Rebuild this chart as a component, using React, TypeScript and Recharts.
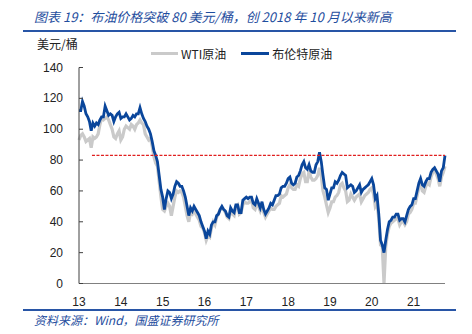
import { LineChart, Line, XAxis, YAxis } from 'recharts'

// 半月度数据，从 2013 年 1 月开始
const brent2013 = [112, 112, 118, 115, 110, 108, 105, 99, 104, 102, 104, 103, 106, 108, 108, 115, 112, 109, 110, 109, 105, 108, 110, 111]
const brent2014 = [107, 108, 108, 110, 108, 106, 107, 109, 108, 110, 110, 114, 110, 107, 105, 102, 100, 97, 92, 86, 83, 79, 70, 61]
const brent2015 = [56, 48, 55, 60, 59, 55, 58, 63, 66, 65, 63, 63, 60, 56, 50, 44, 49, 47, 50, 48, 46, 44, 40, 37]
const brent2016 = [34, 29, 34, 32, 38, 40, 40, 44, 45, 48, 50, 48, 47, 44, 43, 49, 47, 46, 51, 51, 46, 46, 54, 55]
const brent2017 = [56, 55, 56, 56, 52, 51, 55, 52, 49, 53, 48, 45, 47, 49, 52, 51, 54, 57, 57, 58, 62, 63, 63, 65]
const brent2018 = [68, 69, 65, 64, 65, 69, 70, 73, 77, 79, 75, 74, 77, 73, 72, 72, 77, 79, 85, 79, 70, 62, 61, 54]
const brent2019 = [58, 62, 62, 66, 65, 67, 70, 72, 71, 70, 62, 63, 64, 63, 59, 60, 62, 64, 59, 61, 62, 63, 64, 66]
const brent2020 = [68, 64, 55, 57, 45, 28, 25, 20, 28, 35, 40, 41, 43, 43, 45, 45, 41, 42, 42, 40, 44, 48, 50, 51]
const brent2021 = [55, 55, 60, 65, 68, 64, 63, 66, 68, 68, 72, 74, 75, 73, 71, 66, 73, 75, 83]

const wti2013 = [93, 96, 97, 95, 92, 93, 94, 88, 95, 94, 95, 97, 103, 107, 106, 107, 108, 106, 103, 100, 95, 94, 97, 99]
const wti2014 = [93, 95, 100, 102, 101, 100, 103, 102, 100, 103, 104, 106, 104, 103, 97, 95, 93, 94, 89, 82, 78, 76, 66, 56]
const wti2015 = [48, 47, 50, 52, 50, 44, 50, 56, 60, 59, 60, 59, 56, 50, 44, 40, 46, 45, 48, 45, 43, 41, 37, 36]
const wti2016 = [33, 28, 31, 30, 36, 40, 38, 43, 45, 48, 49, 48, 46, 43, 42, 47, 45, 44, 50, 51, 45, 46, 51, 53]
const wti2017 = [52, 52, 53, 54, 49, 48, 52, 50, 47, 50, 46, 43, 45, 47, 49, 48, 48, 50, 51, 52, 57, 56, 57, 58]
const wti2018 = [62, 64, 62, 61, 61, 64, 63, 68, 71, 72, 66, 66, 73, 69, 67, 67, 68, 70, 75, 70, 60, 56, 51, 46]
const wti2019 = [49, 53, 53, 56, 57, 59, 64, 65, 62, 60, 53, 54, 58, 56, 54, 56, 57, 58, 53, 55, 57, 58, 59, 61]
const wti2020 = [62, 58, 50, 52, 42, 25, 24, 0, 24, 32, 37, 39, 40, 41, 42, 42, 38, 40, 40, 38, 40, 45, 46, 48]
const wti2021 = [52, 52, 57, 62, 65, 60, 59, 63, 65, 64, 69, 72, 74, 71, 68, 63, 69, 72, 76]

const brent = [...brent2013, ...brent2014, ...brent2015, ...brent2016, ...brent2017, ...brent2018, ...brent2019, ...brent2020, ...brent2021]
const wti = [...wti2013, ...wti2014, ...wti2015, ...wti2016, ...wti2017, ...wti2018, ...wti2019, ...wti2020, ...wti2021]

const xTicks = [13, 14, 15, 16, 17, 18, 19, 20, 21]
const yTicks = [0, 20, 40, 60, 80, 100, 120, 140]
// 红色虚线：2018 年 10 月高点水平
const refX = [13.31, 21.75]
const refY = [83, 83]
const xEnd = 21.75

const data = brent.map((b, i) => ({ d: 13 + i / 24, brent: b, wti: wti[i] }))
const refData = refX.map((d, i) => ({ d, ref: refY[i] }))

const FONT = '"Liberation Sans", Arial, sans-serif'
const CJK = '"Noto Sans CJK SC", sans-serif'
const BLUE = '#0A469B'
const HEAD = '#1F4E9E'
const RED = '#E02020'

function YTick(props: any) {
  const { x, y, payload } = props
  return (
    <g>
      <line x1={x + 16} x2={x + 20} y1={y} y2={y} stroke="#404040" />
      <text x={x} y={y} dy={4} textAnchor="end" fontSize={12} fill="#222" fontFamily={FONT}>
        {payload.value}
      </text>
    </g>
  )
}

export default function App() {
  return (
    <div style={{ position: 'absolute', left: 0, top: 0, width: 472, height: 334, background: '#fff' }}>
      <LineChart
        width={472}
        height={334}
        data={data}
        margin={{ top: 67.5, right: 27, bottom: 20.5, left: 39 }}
        style={{ position: 'absolute', left: 0, top: 0 }}
      >
        <XAxis
          dataKey="d"
          type="number"
          domain={[13, xEnd]}
          ticks={xTicks}
          interval={0}
          tickLine={false}
          tickMargin={8}
          height={30}
          axisLine={{ stroke: '#808080' }}
          tick={{ fontSize: 12, fill: '#222', fontFamily: FONT }}
        />
        <YAxis
          domain={[0, 140]}
          ticks={yTicks}
          interval={0}
          width={40}
          tickLine={false}
          tickMargin={10}
          axisLine={{ stroke: '#404040' }}
          tick={<YTick />}
        />
        <Line type="linear" dataKey="wti" stroke="#CACACA" strokeWidth={3.2} dot={false} isAnimationActive={false} />
        <Line type="linear" dataKey="brent" stroke={BLUE} strokeWidth={2.8} dot={false} isAnimationActive={false} />
        <Line
          data={refData}
          type="linear"
          dataKey="ref"
          stroke={RED}
          strokeWidth={1.2}
          strokeDasharray="3 1.5"
          dot={false}
          isAnimationActive={false}
        />
      </LineChart>

      <div style={{ position: 'absolute', left: 34, top: 8, fontSize: 13, lineHeight: '18px', fontStyle: 'italic', color: HEAD, fontFamily: CJK, whiteSpace: 'nowrap' }}>
        图表 19：布油价格突破 80 美元/桶，创 2018 年 10 月以来新高
      </div>
      <div style={{ position: 'absolute', left: 23, top: 30, width: 433, height: 2, background: '#2855A6' }} />
      <div style={{ position: 'absolute', left: 37, top: 36, fontSize: 12, lineHeight: '16px', color: '#222', fontFamily: CJK }}>
        美元/桶
      </div>
      <div style={{ position: 'absolute', left: 151, top: 45, height: 16, display: 'flex', alignItems: 'center', fontSize: 12, color: '#222', fontFamily: CJK, whiteSpace: 'nowrap' }}>
        <span style={{ display: 'inline-block', width: 27, height: 3, background: '#CACACA', marginRight: 3 }} />
        <span>WTI原油</span>
        <span style={{ display: 'inline-block', width: 28, height: 3, background: BLUE, marginLeft: 15, marginRight: 3 }} />
        <span>布伦特原油</span>
      </div>
      <div style={{ position: 'absolute', left: 23, top: 309, width: 433, height: 2, background: '#2855A6' }} />
      <div style={{ position: 'absolute', left: 34, top: 312, fontSize: 12, lineHeight: '16px', fontStyle: 'italic', color: HEAD, fontFamily: CJK, whiteSpace: 'nowrap' }}>
        资料来源：Wind，国盛证券研究所
      </div>
    </div>
  )
}
